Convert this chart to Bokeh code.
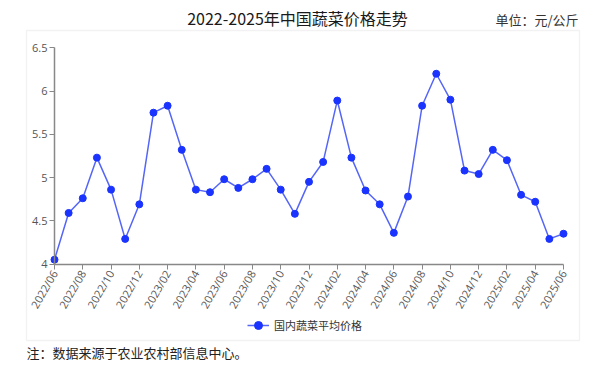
import math
from bokeh.plotting import figure
from bokeh.models import (Range1d, FixedTicker, Label, Legend, LegendItem,
                          ColumnDataSource, BoxAnnotation)
from bokeh.embed import file_html
from bokeh.resources import INLINE

months = ["2022/06", "2022/07", "2022/08", "2022/09", "2022/10", "2022/11", "2022/12",
          "2023/01", "2023/02", "2023/03", "2023/04", "2023/05", "2023/06", "2023/07",
          "2023/08", "2023/09", "2023/10", "2023/11", "2023/12", "2024/01", "2024/02",
          "2024/03", "2024/04", "2024/05", "2024/06", "2024/07", "2024/08", "2024/09",
          "2024/10", "2024/11", "2024/12", "2025/01", "2025/02", "2025/03", "2025/04",
          "2025/05", "2025/06"]
prices = [4.05, 4.59, 4.76, 5.23, 4.86, 4.29, 4.69, 5.75, 5.83, 5.32, 4.86, 4.83,
          4.98, 4.88, 4.98, 5.10, 4.86, 4.58, 4.95, 5.18, 5.89, 5.23, 4.85, 4.69,
          4.36, 4.78, 5.83, 6.20, 5.90, 5.08, 5.04, 5.32, 5.20, 4.80, 4.72, 4.29, 4.35]
y_ticks = [4, 4.5, 5, 5.5, 6, 6.5]
series_name = "国内蔬菜平均价格"
title_text = "2022-2025年中国蔬菜价格走势"
unit_text = "单位：元/公斤"
note_text = "注：数据来源于农业农村部信息中心。"

idx = list(range(len(months)))
src = ColumnDataSource(dict(x=idx, y=prices, m=months))

FONT = "Open Sans"
CJK = "Noto Sans CJK SC"

W, H = 606, 368
# plotting area in page pixels
PX0, PX1 = 54.0, 563.0
PY_TOP, PY_BOT = 47.3, 263.5
n = len(months) - 1
ymin, ymax = y_ticks[0], y_ticks[-1]
sx = (PX1 - PX0) / n
sy = (PY_BOT - PY_TOP) / (ymax - ymin)
x_lo = 0 - PX0 / sx
x_hi = n + (W - PX1) / sx
y_hi = ymax + PY_TOP / sy
y_lo = ymin - (H - PY_BOT) / sy

p = figure(width=W, height=H, output_backend="svg", toolbar_location=None,
           x_range=Range1d(x_lo, x_hi), y_range=Range1d(y_lo, y_hi),
           min_border=0, min_border_left=0, min_border_right=0,
           min_border_top=0, min_border_bottom=0)
p.outline_line_color = None
p.xgrid.visible = False
p.ygrid.visible = False
p.background_fill_color = "white"
p.border_fill_color = "white"

# outer box (page pixels -> screen units measured from bottom-left)
box = BoxAnnotation(left=26, right=579, top=H - 30, bottom=H - 340,
                    left_units="screen", right_units="screen",
                    top_units="screen", bottom_units="screen",
                    fill_color=None, line_color="#d3d3d3", line_width=1.3,
                    level="underlay")
p.add_layout(box)

ln = p.line("x", "y", source=src, line_color="#5566f7", line_width=1.5)
sc = p.scatter("x", "y", source=src, size=7, fill_color="#1a33ff", line_color="#1a33ff")

p.yaxis.fixed_location = 0
p.yaxis.bounds = (ymin, ymax)
p.xaxis.fixed_location = ymin
p.xaxis.bounds = (0, n)
p.yaxis.ticker = FixedTicker(ticks=y_ticks)
p.yaxis.major_label_overrides = {4: "4", 6: "6", 5: "5"}
p.xaxis.ticker = FixedTicker(ticks=idx[::2])
p.xaxis.major_label_overrides = {i: months[i] for i in idx}
p.xaxis.major_label_orientation = math.pi / 3
for ax in (p.xaxis, p.yaxis):
    ax.axis_line_color = "#888888"
    ax.axis_line_width = 1.5
    ax.major_tick_line_color = "#888888"
    ax.major_tick_out = 5
    ax.major_tick_in = 0
    ax.minor_tick_line_color = None
    ax.major_label_text_font = FONT
    ax.major_label_text_font_size = "11px"
    ax.major_label_text_color = "#555555"
    ax.major_label_standoff = 2

legend = Legend(items=[LegendItem(label=series_name, renderers=[ln, sc])],
                location=(247, H - 335), orientation="horizontal",
                border_line_color=None, background_fill_alpha=0,
                label_text_font=CJK, label_text_font_size="11px",
                label_text_color="#333333", glyph_width=22, padding=2, margin=0)
p.add_layout(legend)

p.add_layout(Label(x=297, y=H - 17, x_units="screen", y_units="screen", text=title_text,
                   text_font=CJK, text_font_size="16px", text_color="#1a1a1a",
                   text_align="center", text_baseline="middle"))
p.add_layout(Label(x=578, y=H - 19, x_units="screen", y_units="screen", text=unit_text,
                   text_font=CJK, text_font_size="13px", text_color="#333333",
                   text_align="right", text_baseline="middle"))
p.add_layout(Label(x=26, y=H - 352, x_units="screen", y_units="screen", text=note_text,
                   text_font=CJK, text_font_size="13px", text_color="#222222",
                   text_align="left", text_baseline="middle"))

open("out.html", "w").write(file_html(p, INLINE))
